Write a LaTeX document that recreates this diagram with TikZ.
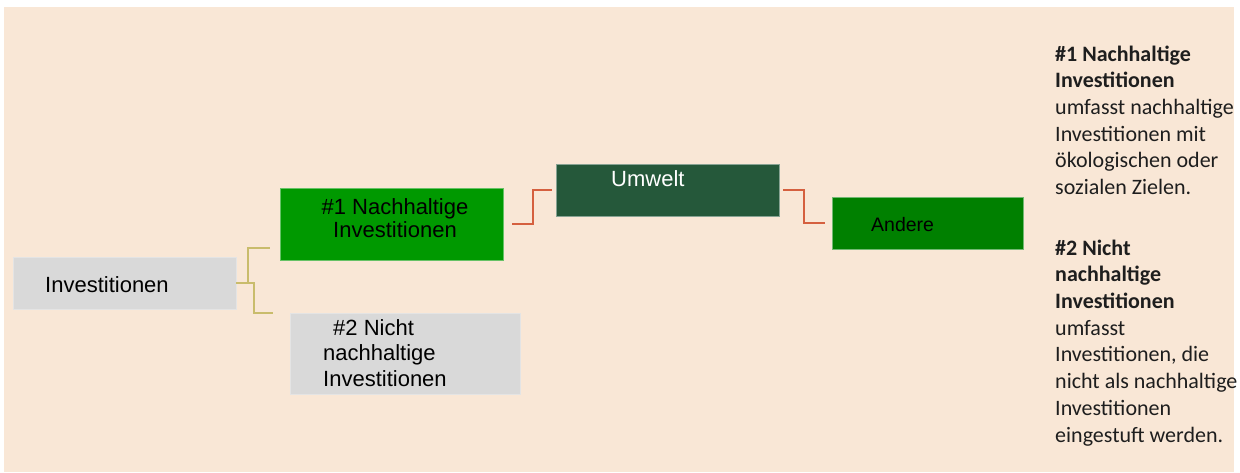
\documentclass[tikz,border=0pt]{standalone}
\usepackage{fontspec}
\newfontfamily\arialf{Liberation Sans}
\newfontfamily\calib{Carlito}
\definecolor{bgc}{HTML}{F9E7D6}
\definecolor{grayc}{HTML}{D9D9D9}
\definecolor{greenA}{HTML}{009900}
\definecolor{greenB}{HTML}{25583A}
\definecolor{greenC}{HTML}{008000}
\definecolor{olivec}{HTML}{C9BC6C}
\definecolor{redc}{HTML}{D5603F}
\definecolor{txtc}{HTML}{1E1E1E}
\tikzset{
  boxn/.style={rectangle, inner sep=0pt, line width=0.8pt},
  boxtxt/.style={inner sep=0pt, font=\arialf\fontsize{22}{23}\selectfont, text=black},
  sidetxt/.style={inner sep=0pt, align=left, anchor=base west, font=\calib\fontsize{22}{26.7}\selectfont, text=txtc},
  olivel/.style={draw=olivec, line width=2pt},
  redl/.style={draw=redc, line width=2pt}
}
\begin{document}
\begin{tikzpicture}[x=1pt,y=-1pt]
\useasboundingbox (0,0) rectangle (1240,472);
\fill[bgc] (4,7) rectangle (1234,472);

% boxes
\node[boxn, fill=grayc, draw=grayc!70!white, minimum width=223pt, minimum height=52pt] (inv) at (124.5,283) {};
\node[boxn, fill=greenA, draw=greenA!60!white, minimum width=223pt, minimum height=72pt] (n1) at (391.5,224) {};
\node[boxn, fill=grayc, draw=grayc!70!white, minimum width=230pt, minimum height=81pt] (n2) at (405,353.5) {};
\node[boxn, fill=greenB, draw=greenB!55!white, minimum width=223pt, minimum height=52pt] (um) at (667.5,190) {};
\node[boxn, fill=greenC, draw=greenC!55!white, minimum width=191pt, minimum height=52pt] (an) at (927.5,223) {};

% box texts (base anchor = baseline of the last line)
\node[boxtxt, anchor=base west] (invT) at (45,292) {Investitionen};
\node[boxtxt, anchor=base, align=center] (n1T) at (395,237) {\#1 Nachhaltige\\Investitionen};
\node[boxtxt, anchor=base west, align=left, font=\arialf\fontsize{22}{25.5}\selectfont] (n2T) at (323,386) {\hspace*{10pt}\#2 Nicht\\nachhaltige\\Investitionen};
\node[boxtxt, anchor=base west, text=white] (umT) at (611,186) {Umwelt};
\node[boxtxt, anchor=base west, font=\arialf\fontsize{19.5}{23}\selectfont] (anT) at (871,231) {Andere};

% connectors
\coordinate (oTop) at (270,248);
\coordinate (oBot) at (273,313);
\draw[olivel] (inv.east) -- ++(12,0) coordinate (oj) |- (oTop);
\draw[olivel] (oj) -- ++(6,0) |- (oBot);
\draw[redl, shorten <=9pt, shorten >=4pt] (n1.east) -- ++(30,0) |- (um.west);
\draw[redl, shorten <=4pt, shorten >=7pt] (um.east) -- ++(25,0) |- (an.west);

% side texts
\node[sidetxt] (s1) at (1055,194.5) {{\bfseries \#1 Nachhaltige}\\{\bfseries Investitionen}\\umfasst nachhaltige\\Investitionen mit\\ökologischen oder\\sozialen Zielen.};
\node[sidetxt] (s2) at (1055,442) {{\bfseries \#2 Nicht}\\{\bfseries nachhaltige}\\{\bfseries Investitionen}\\umfasst\\Investitionen, die\\nicht als nachhaltige\\Investitionen\\eingestuft werden.};
\end{tikzpicture}
\end{document}
